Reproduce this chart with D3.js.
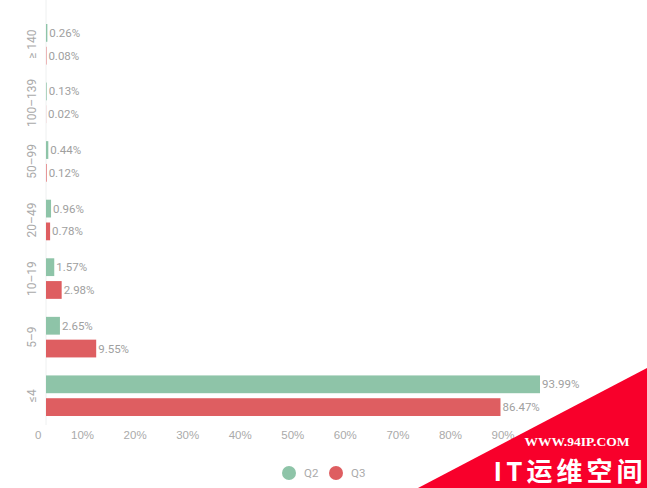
<!DOCTYPE html>
<html><head><meta charset="utf-8">
<script src="https://cdn.jsdelivr.net/npm/d3@7"></script>
<style>body{margin:0;background:#fff}svg{display:block;font-family:Roboto,"Noto Sans",sans-serif}</style>
</head><body>
<svg id="c" width="647" height="488"></svg>
<script>
const categories = ["≥ 140","100–139","50–99","20–49","10–19","5–9","≤4"];
const seriesNames = ["Q2","Q3"];
const q2 = [0.26,0.13,0.44,0.96,1.57,2.65,93.99];
const q3 = [0.08,0.02,0.12,0.78,2.98,9.55,86.47];
const xTicks = [0,10,20,30,40,50,60,70,80,90];
const colors = ["#8ec4a8","#de5e61"];

const svg = d3.select("#c");
const x = d3.scaleLinear().domain([0,100]).range([46,571.6]);
const y = d3.scaleBand().domain(categories).range([15,425]);
const ys = d3.scaleBand().domain(seriesNames).range([9, y.bandwidth()-9]).paddingInner(0.22);
const series = [q2,q3];

// axis line
svg.append("line").attr("x1",46).attr("x2",46).attr("y1",0).attr("y2",425)
  .attr("stroke","#eef0f0").attr("stroke-width",1);

// x axis labels
const xa = d3.axisBottom(x).tickValues(xTicks).tickSize(0).tickFormat(d=>d===0?"0":d+"%");
const gx = svg.append("g").attr("transform","translate(0,428)").call(xa);
gx.select(".domain").remove();
gx.selectAll("text").attr("fill","#aaa").attr("font-size",11.5).attr("text-anchor","end").attr("dx",-5);

// y axis labels
categories.forEach(c=>{
  const cy = y(c)+y.bandwidth()/2;
  svg.append("text").attr("transform",`translate(36,${cy}) rotate(-90)`)
    .attr("text-anchor","middle").attr("fill","#aaa").attr("font-size",12).text(c);
});

// bars
seriesNames.forEach((s,si)=>{
  const g = svg.append("g");
  categories.forEach((c,i)=>{
    const v = series[si][i];
    const by = y(c)+ys(s);
    g.append("rect").attr("x",x(0)).attr("y",by).attr("width",Math.max(x(v)-x(0),0))
      .attr("height",ys.bandwidth()).attr("fill",colors[si]);
    g.append("text").attr("x",x(v)+2).attr("y",by+ys.bandwidth()/2).attr("dy","0.35em")
      .attr("fill","#a0a0a0").attr("font-size",11.5).text(v.toFixed(2)+"%");
  });
});

// legend
const lg = svg.append("g");
seriesNames.forEach((s,i)=>{
  const lx = 289 + i*47;
  lg.append("circle").attr("cx",lx).attr("cy",473).attr("r",7).attr("fill",colors[i]);
  lg.append("text").attr("x",lx+15).attr("y",473).attr("dy","0.35em").attr("fill","#aaa").attr("font-size",11.5).text(s);
});

// watermark
svg.append("path").attr("d","M418,488 L647,368 L647,488 Z").attr("fill","#f8002b");
svg.append("text").attr("x",577).attr("y",446).attr("text-anchor","middle").attr("fill","#fff")
  .attr("font-family","'Liberation Serif',serif").attr("font-weight","bold").attr("font-size",13.5).text("WWW.94IP.COM");
svg.append("text").attr("x",570).attr("y",481).attr("text-anchor","middle").attr("fill","#fff")
  .attr("font-family","'Noto Sans CJK SC',sans-serif").attr("font-weight","bold").attr("font-size",26).attr("letter-spacing",4).text("IT运维空间");
</script>
</body></html>
